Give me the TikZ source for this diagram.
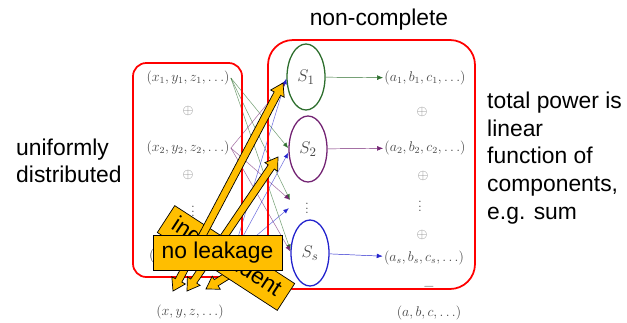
\documentclass[tikz,border=0pt]{standalone}
\usepackage{fontspec}
\newfontfamily\arial{Liberation Sans}
\usetikzlibrary{arrows.meta,positioning,calc,shapes.geometric}

\definecolor{sgreen}{RGB}{45,110,45}
\definecolor{spurple}{RGB}{115,35,115}
\definecolor{sblue}{RGB}{35,35,205}
\definecolor{callout}{RGB}{255,190,0}
\definecolor{ink}{RGB}{70,70,70}

% block arrow with a head at both ends, from #1 to #2
\newcommand{\fatarrow}[2]{%
  \coordinate (fa1) at ($(#1)!0.36cm!(#2)$);
  \coordinate (fa2) at ($(#2)!0.36cm!(#1)$);
  \draw[fat] (#1) -- ($(fa1)!0.23cm!90:(#2)$) -- ($(fa1)!0.11cm!90:(#2)$)
    -- ($(fa2)!0.11cm!-90:(#1)$) -- ($(fa2)!0.23cm!-90:(#1)$) -- (#2)
    -- ($(fa2)!0.23cm!90:(#1)$) -- ($(fa2)!0.11cm!90:(#1)$)
    -- ($(fa1)!0.11cm!-90:(#2)$) -- ($(fa1)!0.23cm!-90:(#2)$) -- cycle;}

\begin{document}
\begin{tikzpicture}[x=0.03cm, y=-0.03cm, >={Latex[length=5pt,width=4pt]},
  txt/.style={font=\arial\fontsize{19.5}{23.6}\selectfont, align=left, inner sep=0pt},
  vec/.style={font=\fontsize{11.7}{14}\selectfont, text=ink, inner sep=1pt},
  plus/.style={font=\fontsize{11.7}{14}\selectfont, text=gray, inner sep=0pt},
  share/.style={draw, ellipse, line width=1.1pt, minimum width=1.14cm, minimum height=1.98cm,
    inner sep=0pt, font=\fontsize{15}{18}\selectfont, text=ink},
  wire/.style={->, line width=0.45pt, draw opacity=0.65},
  group/.style={draw=red, line width=1.5pt},
  note/.style={draw=black, fill=callout, line width=0.6pt, inner sep=0pt,
    font=\arial\fontsize{19.5}{23.6}\selectfont},
  fat/.style={draw=black, fill=callout, line width=0.6pt, line join=miter}]
  \useasboundingbox (0,0) rectangle (627,322);

  % labels outside the boxes
  \node[txt] (nc) at (379,20) {non-complete};
  \node[txt, anchor=west] (ud) at (16,161) {uniformly\\distributed};
  \node[txt, anchor=west] (tp) at (487,158) {total power is\\linear\\function of\\components,\\e.g. sum};

  % inputs
  \node[vec] (x1) at (188,78) {$(x_1,y_1,z_1,\ldots)$};
  \node[plus] (px1) at (188,111) {$\oplus$};
  \node[vec] (x2) at (188,148) {$(x_2,y_2,z_2,\ldots)$};
  \node[plus] (px2) at (188,175) {$\oplus$};
  \node[vec] (xd) at (193,208) {$\vdots$};
  \node[vec] (xs) at (190,256) {$(x_s,y_s,z_s,\ldots)$};
  \node[vec] (xsum) at (190,312) {$(x,y,z,\ldots)$};

  % shares
  \node[share, draw=sgreen] (s1) at (306,77) {$S_1$};
  \node[share, draw=spurple] (s2) at (308,149) {$S_2$};
  \node[vec] (sd) at (307,205) {$\vdots$};
  \node[share, draw=sblue] (ss) at (310,253) {$S_s$};
  \coordinate (vda) at (290,200);
  \coordinate (vdb) at (289,208);

  % outputs
  \node[vec] (a1) at (425,78) {$(a_1,b_1,c_1,\ldots)$};
  \node[plus] (pa1) at (422,112) {$\oplus$};
  \node[vec] (a2) at (425,148) {$(a_2,b_2,c_2,\ldots)$};
  \node[plus] (pa2) at (423,176) {$\oplus$};
  \node[vec] (ad) at (420,203) {$\vdots$};
  \node[plus] (pa3) at (422,235) {$\oplus$};
  \node[vec] (as) at (424,258) {$(a_s,b_s,c_s,\ldots)$};
  \node[vec] (eq) at (429,289) {$=$};
  \node[vec] (asum) at (429,313) {$(a,b,c,\ldots)$};

  \draw[->, sgreen] (s1) -- (a1);
  \draw[->, spurple] (s2) -- (a2);
  \draw[->, sblue] (ss) -- (as);

  % non-complete wiring
  \draw[wire, sgreen] (x1.east) -- (s2.178);
  \draw[wire, sgreen] (x1.east) -- (vda);
  \draw[wire, sgreen] (x1.east) -- (ss.172);
  \draw[wire, spurple] (x2.east) -- (s1.190);
  \draw[wire, spurple] (x2.east) -- (vda);
  \draw[wire, spurple] (x2.east) -- (ss.176);
  \draw[wire, sblue] (xs.east) -- (s1.184);
  \draw[wire, sblue] (xs.east) -- (s2.190);
  \draw[wire, sblue] (xs.east) -- (vdb);

  % groups
  \draw[group, rounded corners=0.4cm] (133,63) rectangle (242,277);
  \draw[group, rounded corners=0.75cm] (268,40) rectangle (475,289);

  % overlay
  \coordinate (f3a) at (240,268);
  \coordinate (f3b) at (206,289);
  \fatarrow{f3a}{f3b}
  \node[note, rotate=-33, minimum width=4.29cm, minimum height=0.96cm] (ind) at (226,258) {independent};
  \coordinate (f1a) at (173,291);
  \coordinate (f1b) at (283,83);
  \coordinate (f2a) at (187,291);
  \coordinate (f2b) at (278,157);
  \fatarrow{f1a}{f1b}
  \fatarrow{f2a}{f2b}
  \node[note, minimum width=3.87cm, minimum height=1.05cm] (nl) at (217.5,252.5) {no leakage};
\end{tikzpicture}
\end{document}
